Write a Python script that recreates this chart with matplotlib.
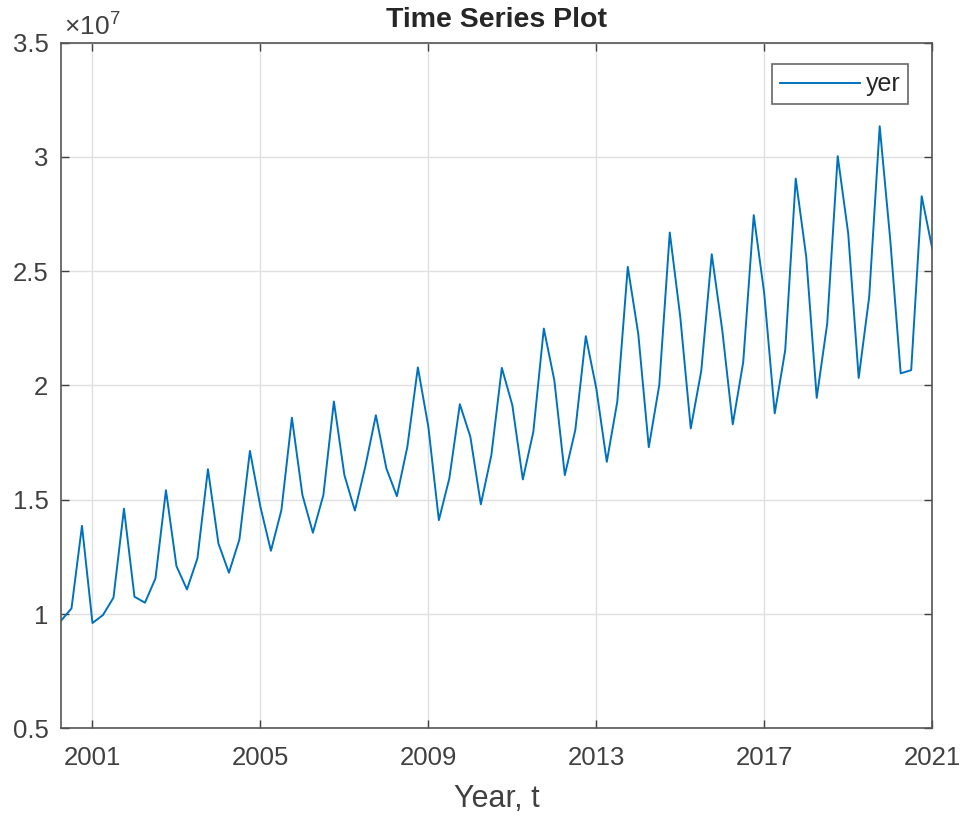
import numpy as np
import matplotlib.pyplot as plt
from matplotlib.ticker import FuncFormatter

# quarterly series, 2000 Q2 .. 2021 Q1
start_year = 2000.25
yer = np.array([
    0.971, 1.025, 1.386, 0.961, 0.996, 1.072, 1.461, 1.076, 1.050, 1.156,
    1.542, 1.210, 1.108, 1.244, 1.634, 1.309, 1.181, 1.327, 1.714, 1.469,
    1.277, 1.455, 1.859, 1.521, 1.356, 1.521, 1.930, 1.608, 1.453, 1.647,
    1.870, 1.637, 1.516, 1.732, 2.079, 1.819, 1.411, 1.594, 1.918, 1.776,
    1.480, 1.695, 2.077, 1.914, 1.589, 1.797, 2.249, 2.023, 1.608, 1.805,
    2.216, 1.987, 1.666, 1.929, 2.519, 2.225, 1.730, 2.002, 2.669, 2.300,
    1.812, 2.064, 2.574, 2.242, 1.830, 2.103, 2.745, 2.402, 1.878, 2.155,
    2.905, 2.563, 1.946, 2.271, 3.003, 2.665, 2.033, 2.388, 3.134, 2.640,
    2.053, 2.067, 2.828, 2.600,
]) * 1e7
t = start_year + 0.25 * np.arange(len(yer))

xticks = [2001, 2005, 2009, 2013, 2017, 2021]
yticks = [0.5e7, 1.0e7, 1.5e7, 2.0e7, 2.5e7, 3.0e7, 3.5e7]

plt.rcParams['font.family'] = 'Liberation Sans'
plt.rcParams['mathtext.fontset'] = 'custom'
plt.rcParams['mathtext.rm'] = 'Liberation Sans'

axcol = '#404040'
fig = plt.figure(figsize=(9.62, 8.18), dpi=100)
ax = fig.add_axes([0.0634, 0.1095, 0.9056, 0.8385])

ax.plot(t, yer, color='#0072BD', linewidth=1.4, label='yer')

ax.set_xlim(start_year, 2021)
ax.set_ylim(0.5e7, 3.5e7)
ax.set_xticks(xticks)
ax.set_yticks(yticks)
ax.yaxis.set_major_formatter(FuncFormatter(lambda v, p: '%g' % (v / 1e7)))
ax.grid(True, color='#e0e0e0', linewidth=1.0)
ax.set_axisbelow(True)

ax.tick_params(direction='in', length=6, width=1.0, colors=axcol,
               labelsize=18.5, top=True, right=True)
ax.tick_params(axis='x', pad=13)
ax.tick_params(axis='y', pad=9)
for s in ax.spines.values():
    s.set_color('#555555')
    s.set_linewidth(1.2)

ax.text(0.003, 1.004, r'$\times10^{7}$', transform=ax.transAxes,
        fontsize=19, color=axcol, ha='left', va='bottom')

ax.set_title('Time Series Plot', fontsize=20.5, fontweight='bold',
             color='#262626', pad=11)
ax.set_xlabel('Year, t', fontsize=22, color=axcol, labelpad=10)

leg = ax.legend(loc='upper right', fontsize=18, frameon=True, fancybox=False,
                handlelength=3.2, handletextpad=0.2, borderpad=0.32,
                borderaxespad=0, bbox_to_anchor=(0.9724, 0.968))
leg.get_frame().set_edgecolor('#404040')
leg.get_frame().set_linewidth(1.2)
for txt in leg.get_texts():
    txt.set_color('#262626')

fig.savefig('out.png', dpi=100)
